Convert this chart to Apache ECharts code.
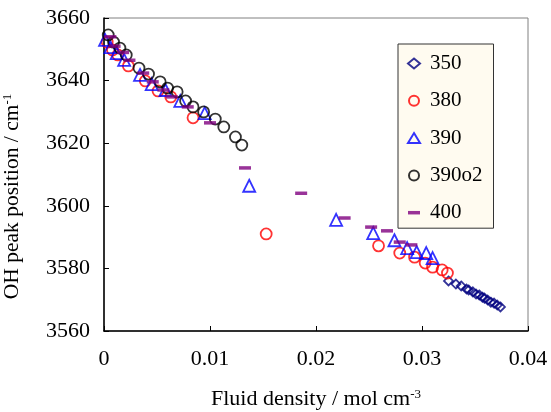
<!DOCTYPE html>
<html><head><meta charset="utf-8">
<script src="https://cdn.jsdelivr.net/npm/echarts@6/dist/echarts.min.js"></script>
<style>html,body{margin:0;padding:0;background:#fff}#c{width:551px;height:412px}</style>
</head><body><div id="c"></div>
<script>
var xTicks = [0, 0.01, 0.02, 0.03, 0.04];
var yTicks = [3560, 3580, 3600, 3620, 3640, 3660];

var s350x = [0.0325,0.0332,0.0337,0.0342,0.0344,0.0348,0.0351,0.0354,0.0357,0.0359,0.0362,0.0365,0.0368,0.0371,0.0374];
var s350y = [3576.0,3575.0,3574.4,3573.4,3573.1,3572.5,3571.8,3571.5,3570.8,3570.5,3569.9,3569.2,3568.9,3568.3,3567.7];

var s380x = [0.0003,0.0008,0.0013,0.0023,0.0039,0.0051,0.0063,0.0084,0.0153,0.0259,0.0279,0.0293,0.0303,0.0310,0.0319,0.0324];
var s380y = [3652.3,3649.8,3648.2,3644.7,3639.9,3636.7,3634.8,3628.1,3591.0,3587.2,3584.9,3583.6,3581.7,3580.4,3579.5,3578.5];

var s390x = [0.0001,0.0006,0.0012,0.0019,0.0034,0.0045,0.0058,0.0072,0.0095,0.0137,0.0219,0.0254,0.0274,0.0286,0.0295,0.0304,0.0310];
var s390y = [3653.0,3650.7,3648.8,3646.6,3641.8,3638.9,3637.0,3633.5,3629.6,3606.4,3595.5,3591.3,3589.0,3586.5,3585.2,3584.9,3583.3];

var s390o2x = [0.0004,0.0009,0.0015,0.0021,0.0033,0.0042,0.0053,0.0060,0.0069,0.0077,0.0084,0.0094,0.0105,0.0113,0.0124,0.0130];
var s390o2y = [3654.6,3652.3,3650.4,3648.2,3644.0,3642.1,3639.6,3637.6,3636.4,3633.5,3631.6,3630.0,3627.7,3625.2,3622.0,3619.4];

var s400x = [0.0006,0.0010,0.0018,0.0024,0.0037,0.0046,0.0056,0.0064,0.0079,0.0100,0.0133,0.0186,0.0227,0.0252,0.0267,0.0279,0.0290];
var s400y = [3654.0,3651.0,3649.0,3646.5,3642.4,3639.6,3637.0,3634.8,3631.6,3626.5,3612.1,3604.0,3596.1,3593.2,3592.0,3588.4,3587.5];

var names = ['350','380','390','390o2','400'];

function zip(a,b){ return a.map(function(v,i){ return [v,b[i]]; }); }

var FONT = '"Liberation Serif","Times New Roman",serif';

function openSeries(name, xs, ys, symbol, size, color){
  return {
    name: name, type: 'scatter', data: zip(xs, ys),
    symbol: symbol, symbolSize: size,
    itemStyle: { color: 'rgba(255,255,255,0)', borderColor: color, borderWidth: 1.8 },
    emphasis: { disabled: true }
  };
}

var chart = echarts.init(document.getElementById('c'));
chart.setOption({
  animation: false,
  backgroundColor: '#fff',
  grid: { left: 104, right: 23, top: 18, bottom: 81, containLabel: false, outerBoundsMode: 'none',
          show: true, borderColor: '#808080', borderWidth: 1 },
  xAxis: {
    type: 'value', min: xTicks[0], max: xTicks[xTicks.length-1], interval: 0.01,
    name: 'Fluid density / mol cm{sup|-3}', nameLocation: 'middle', nameGap: 57,
    nameTextStyle: { fontFamily: FONT, fontSize: 22, color: '#000',
      rich: { sup: { fontFamily: FONT, fontSize: 13, verticalAlign: 'top', padding: [0,0,10,0] } } },
    axisLine: { show: true, lineStyle: { color: '#000', width: 1.5 } },
    axisTick: { show: true, inside: true, length: 5, lineStyle: { color: '#000' } },
    axisLabel: { fontFamily: FONT, fontSize: 22, color: '#000', margin: 17,
      formatter: function(v){ return String(+v.toFixed(2)); } },
    splitLine: { show: false }
  },
  yAxis: {
    type: 'value', min: yTicks[0], max: yTicks[yTicks.length-1], interval: 20,
    name: 'OH peak position / cm{sup|-1}', nameLocation: 'middle', nameGap: 80,
    nameTextStyle: { fontFamily: FONT, fontSize: 21.5, color: '#000', padding: [0, 44, 0, 0],
      rich: { sup: { fontFamily: FONT, fontSize: 13, verticalAlign: 'top', padding: [0,0,10,0] } } },
    axisLine: { show: true, lineStyle: { color: '#000', width: 1.5 } },
    axisTick: { show: true, inside: true, length: 5, lineStyle: { color: '#000' } },
    axisLabel: { fontFamily: FONT, fontSize: 22, color: '#000', margin: 14,
      formatter: function(v){ return String(v); } },
    splitLine: { show: false }
  },
  legend: {
    orient: 'vertical', left: 398, top: 44,
    backgroundColor: '#FFFBF0', borderColor: '#333', borderWidth: 1,
    padding: [9, 11, 5, 9], itemGap: 16.3, itemWidth: 12, itemHeight: 10,
    textStyle: { fontFamily: FONT, fontSize: 21, color: '#000', padding: [0, 0, 0, 5] },
    data: [
      { name: names[0], icon: 'diamond' },
      { name: names[1], icon: 'circle' },
      { name: names[2], icon: 'triangle' },
      { name: names[3], icon: 'circle' },
      { name: names[4], icon: 'path://M0,0H12V3.5H0Z' }
    ]
  },
  series: [
    openSeries(names[0], s350x, s350y, 'diamond', 9, '#000080'),
    openSeries(names[1], s380x, s380y, 'circle', 11, '#FF0000'),
    openSeries(names[2], s390x, s390y, 'triangle', 12, '#0000FF'),
    openSeries(names[3], s390o2x, s390o2y, 'circle', 11, '#000000'),
    { name: names[4], type: 'scatter', data: zip(s400x, s400y),
      symbol: 'rect', symbolSize: [12, 3.5],
      itemStyle: { color: '#800080' }, emphasis: { disabled: true } }
  ]
});
</script></body></html>
